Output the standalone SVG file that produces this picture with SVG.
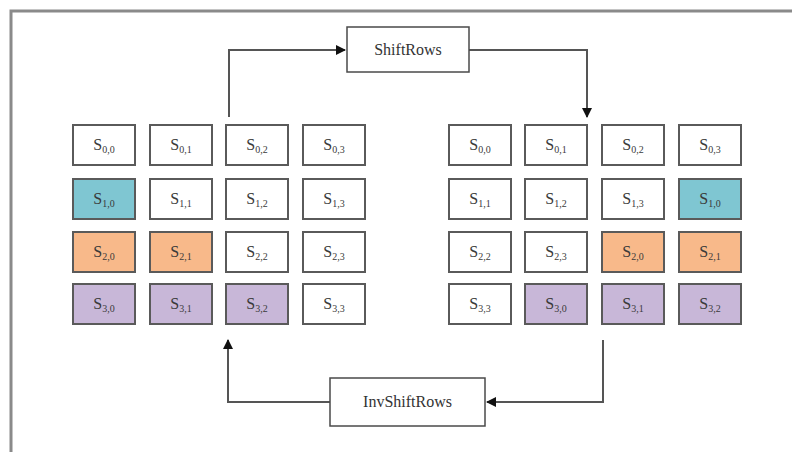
<svg xmlns="http://www.w3.org/2000/svg" width="792" height="452" viewBox="0 0 792 452">
<defs>
<style>
.c{stroke:#5a5a5a;stroke-width:2;fill:#fff}
.b{fill:#7fc6d2}.o{fill:#f8b98a}.p{fill:#c8b7d8}
.t{font-family:"Liberation Serif",serif;font-size:16px;fill:#3a3a3a;text-anchor:middle}
.s{font-size:10px}
.box{stroke:#4a4a4a;stroke-width:1.5;fill:#fff}
.lbl{font-family:"Liberation Serif",serif;font-size:16px;fill:#333;text-anchor:middle}
.ln{stroke:#555;stroke-width:2;fill:none}
</style>
<marker id="ah" viewBox="0 0 10 10" refX="9" refY="5" markerWidth="5" markerHeight="5" orient="auto" markerUnits="strokeWidth"><path d="M0,0L10,5L0,10z" fill="#111"/></marker>
</defs>
<rect width="792" height="452" fill="#fff"/>
<path d="M11,452V11H792" stroke="#8a8a8a" stroke-width="3" fill="none"/>
<g id="connectors">
<path class="ln" d="M229,117V50H345" marker-end="url(#ah)"/>
<path class="ln" d="M469,50H587V117" marker-end="url(#ah)"/>
<path class="ln" d="M603,340V402H487" marker-end="url(#ah)"/>
<path class="ln" d="M330,402H228V340" marker-end="url(#ah)"/>
</g>
<g id="shiftrows"><rect class="box" x="347" y="27" width="122" height="45"/><text class="lbl" x="408" y="55">ShiftRows</text></g>
<g id="invshiftrows"><rect class="box" x="330" y="378" width="155" height="48"/><text class="lbl" x="407.500" y="407">InvShiftRows</text></g>
<g id="left">
<g id="L00"><rect class="c" x="73" y="125" width="62" height="40"/><text class="t" x="104" y="150">S<tspan class="s" dy="3">0,0</tspan></text></g>
<g id="L01"><rect class="c" x="150" y="125" width="62" height="40"/><text class="t" x="181" y="150">S<tspan class="s" dy="3">0,1</tspan></text></g>
<g id="L02"><rect class="c" x="226" y="125" width="62" height="40"/><text class="t" x="257" y="150">S<tspan class="s" dy="3">0,2</tspan></text></g>
<g id="L03"><rect class="c" x="303" y="125" width="62" height="40"/><text class="t" x="334" y="150">S<tspan class="s" dy="3">0,3</tspan></text></g>
<g id="L10"><rect class="c b" x="73" y="179" width="62" height="40"/><text class="t" x="104" y="204">S<tspan class="s" dy="3">1,0</tspan></text></g>
<g id="L11"><rect class="c" x="150" y="179" width="62" height="40"/><text class="t" x="181" y="204">S<tspan class="s" dy="3">1,1</tspan></text></g>
<g id="L12"><rect class="c" x="226" y="179" width="62" height="40"/><text class="t" x="257" y="204">S<tspan class="s" dy="3">1,2</tspan></text></g>
<g id="L13"><rect class="c" x="303" y="179" width="62" height="40"/><text class="t" x="334" y="204">S<tspan class="s" dy="3">1,3</tspan></text></g>
<g id="L20"><rect class="c o" x="73" y="232" width="62" height="40"/><text class="t" x="104" y="257">S<tspan class="s" dy="3">2,0</tspan></text></g>
<g id="L21"><rect class="c o" x="150" y="232" width="62" height="40"/><text class="t" x="181" y="257">S<tspan class="s" dy="3">2,1</tspan></text></g>
<g id="L22"><rect class="c" x="226" y="232" width="62" height="40"/><text class="t" x="257" y="257">S<tspan class="s" dy="3">2,2</tspan></text></g>
<g id="L23"><rect class="c" x="303" y="232" width="62" height="40"/><text class="t" x="334" y="257">S<tspan class="s" dy="3">2,3</tspan></text></g>
<g id="L30"><rect class="c p" x="73" y="284" width="62" height="40"/><text class="t" x="104" y="309">S<tspan class="s" dy="3">3,0</tspan></text></g>
<g id="L31"><rect class="c p" x="150" y="284" width="62" height="40"/><text class="t" x="181" y="309">S<tspan class="s" dy="3">3,1</tspan></text></g>
<g id="L32"><rect class="c p" x="226" y="284" width="62" height="40"/><text class="t" x="257" y="309">S<tspan class="s" dy="3">3,2</tspan></text></g>
<g id="L33"><rect class="c" x="303" y="284" width="62" height="40"/><text class="t" x="334" y="309">S<tspan class="s" dy="3">3,3</tspan></text></g>
</g>
<g id="right">
<g id="R00"><rect class="c" x="449" y="125" width="62" height="40"/><text class="t" x="480" y="150">S<tspan class="s" dy="3">0,0</tspan></text></g>
<g id="R01"><rect class="c" x="525" y="125" width="62" height="40"/><text class="t" x="556" y="150">S<tspan class="s" dy="3">0,1</tspan></text></g>
<g id="R02"><rect class="c" x="602" y="125" width="62" height="40"/><text class="t" x="633" y="150">S<tspan class="s" dy="3">0,2</tspan></text></g>
<g id="R03"><rect class="c" x="679" y="125" width="62" height="40"/><text class="t" x="710" y="150">S<tspan class="s" dy="3">0,3</tspan></text></g>
<g id="R10"><rect class="c" x="449" y="179" width="62" height="40"/><text class="t" x="480" y="204">S<tspan class="s" dy="3">1,1</tspan></text></g>
<g id="R11"><rect class="c" x="525" y="179" width="62" height="40"/><text class="t" x="556" y="204">S<tspan class="s" dy="3">1,2</tspan></text></g>
<g id="R12"><rect class="c" x="602" y="179" width="62" height="40"/><text class="t" x="633" y="204">S<tspan class="s" dy="3">1,3</tspan></text></g>
<g id="R13"><rect class="c b" x="679" y="179" width="62" height="40"/><text class="t" x="710" y="204">S<tspan class="s" dy="3">1,0</tspan></text></g>
<g id="R20"><rect class="c" x="449" y="232" width="62" height="40"/><text class="t" x="480" y="257">S<tspan class="s" dy="3">2,2</tspan></text></g>
<g id="R21"><rect class="c" x="525" y="232" width="62" height="40"/><text class="t" x="556" y="257">S<tspan class="s" dy="3">2,3</tspan></text></g>
<g id="R22"><rect class="c o" x="602" y="232" width="62" height="40"/><text class="t" x="633" y="257">S<tspan class="s" dy="3">2,0</tspan></text></g>
<g id="R23"><rect class="c o" x="679" y="232" width="62" height="40"/><text class="t" x="710" y="257">S<tspan class="s" dy="3">2,1</tspan></text></g>
<g id="R30"><rect class="c" x="449" y="284" width="62" height="40"/><text class="t" x="480" y="309">S<tspan class="s" dy="3">3,3</tspan></text></g>
<g id="R31"><rect class="c p" x="525" y="284" width="62" height="40"/><text class="t" x="556" y="309">S<tspan class="s" dy="3">3,0</tspan></text></g>
<g id="R32"><rect class="c p" x="602" y="284" width="62" height="40"/><text class="t" x="633" y="309">S<tspan class="s" dy="3">3,1</tspan></text></g>
<g id="R33"><rect class="c p" x="679" y="284" width="62" height="40"/><text class="t" x="710" y="309">S<tspan class="s" dy="3">3,2</tspan></text></g>
</g>
</svg>
